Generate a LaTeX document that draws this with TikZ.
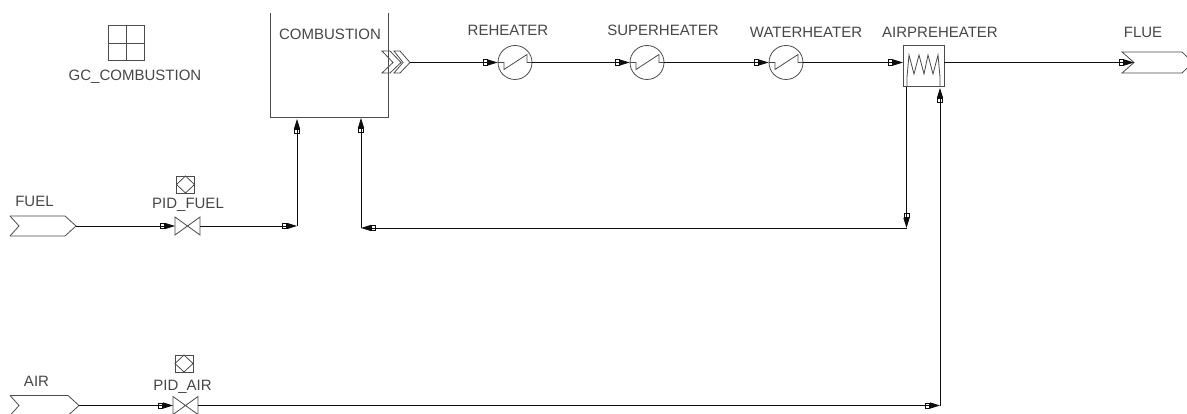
\documentclass[tikz,border=0pt]{standalone}
\usepackage{fontspec}
\setmainfont{Liberation Sans}
\usetikzlibrary{arrows.meta}
\definecolor{txt}{gray}{0.28}
\definecolor{pipe}{gray}{0.05}
\definecolor{edge}{gray}{0.3}
\tikzset{
  x=1pt,y=-1pt,
  lbl/.style={anchor=base,inner sep=0pt,text=txt,font=\fontsize{15}{16}\selectfont},
  symb/.style={draw=edge,line width=0.8pt},
  flow/.style={draw=pipe,line width=0.8pt,-{Rectangle[open,length=5pt,width=6pt,line width=0.7pt]Triangle[length=10pt,width=6pt,sep=0pt]}},
  heater/.style={circle,symb,minimum size=34pt,inner sep=0pt},
  block/.style={rectangle,inner sep=0pt,outer sep=0pt},
}
\newcommand{\coilsym}[1]{\draw[symb] ([shift={(-17,0)}]#1.center) -- ++(6,0) -- ++(0,7) -- ++(23,-15) -- ++(0,8) -- ++(5,0);}
\newcommand{\valvesym}[1]{\draw[symb] (#1.north west) -- (#1.south east) -- (#1.north east) -- (#1.south west) -- cycle;}
\newcommand{\instsym}[1]{\draw[symb] (#1.north west) rectangle (#1.south east);
  \draw[symb] (#1.north) -- (#1.east) -- (#1.south) -- (#1.west) -- cycle;}
\newcommand{\streamsym}[4]{% left x, centre y, right shoulder x, tip x
  \draw[symb] (#1,#2-10) -- (#3,#2-10) -- (#4,#2) -- (#3,#2+10) -- (#1,#2+10);
  \draw[symb] (#1,#2-10) -- (#1+9,#2) -- (#1,#2+10);}
\begin{document}
\begin{tikzpicture}
\fill[white] (0,0) rectangle (1187,414);
\clip (0,0) rectangle (1187,414);
\useasboundingbox (0,0) rectangle (1187,414);

% combustion
\node[block,minimum width=118pt,minimum height=105pt] (comb) at (329,65.5) {};
\draw[draw=edge,line width=1pt] (comb.north west) -- (comb.south west) -- (comb.south east) -- (comb.north east);
\node[lbl] (tcomb) at (330,40) {COMBUSTION};

% GC
\node[block,draw=edge,line width=0.9pt,minimum width=36pt,minimum height=35pt] (gc) at (126.5,43) {};
\draw[symb] (gc.north) -- (gc.south) (gc.west) -- (gc.east);
\node[lbl] (tgc) at (135,81) {GC\_COMBUSTION};

% heaters
\node[heater] (reheat) at (515,62.5) {};
\node[heater] (super) at (647,62.5) {};
\node[heater] (water) at (786,62.5) {};
\coilsym{reheat}\coilsym{super}\coilsym{water}
\node[lbl] (treheat) at (508,36) {REHEATER};
\node[lbl] (tsuper) at (663,36) {SUPERHEATER};
\node[lbl] (twater) at (806,38) {WATERHEATER};

% air preheater
\node[block,draw=edge,line width=1pt,minimum width=41pt,minimum height=41pt] (aph) at (923.5,66.5) {};
\draw[symb] (907,87) -- (907,77) -- (909,55) -- (914,74) -- (919,55) -- (924,74) -- (928,55) -- (933,74) -- (938,55) -- (940,77) -- (940,87);
\node[lbl] (taph) at (940,38) {AIRPREHEATER};

% streams
\streamsym{10}{226}{65}{76}
\coordinate (fuel) at (76,226);
\node[lbl] (tfuel) at (34.5,207) {FUEL};
\streamsym{10}{405.5}{68}{79}
\coordinate (air) at (79,405.5);
\node[lbl] (tair) at (36.5,386) {AIR};
\draw[symb] (1122,52) -- (1182,52) -- (1193,62.5) -- (1182,73) -- (1122,73) -- (1134,62.5) -- cycle;
\coordinate (flue) at (1134,62.5);
\node[lbl] (tflue) at (1143,38) {FLUE};

% valves and instruments
\node[block,minimum width=25pt,minimum height=18pt] (vfuel) at (187.5,226) {};
\valvesym{vfuel}
\node[block,minimum width=18pt,minimum height=17pt] (ifuel) at (185.5,184.5) {};
\instsym{ifuel}
\node[lbl] (tpf) at (188,209) {PID\_FUEL};
\node[block,minimum width=25pt,minimum height=18pt] (vair) at (185.5,405.5) {};
\valvesym{vair}
\node[block,minimum width=18pt,minimum height=17pt] (iair) at (184,363.5) {};
\instsym{iair}
\node[lbl] (tpa) at (182.5,390) {PID\_AIR};

% combustion outlet chevrons
\coordinate (out) at (410,62.5);
\draw[symb] (382,51) -- (390,51) -- (401,62.5) -- (390,73) -- (382,73) -- (393,62.5) -- cycle;
\draw[symb] (394,51) -- (400,51) -- (410,62.5) -- (400,73) -- (394,73) -- (403,62.5) -- cycle;

% junction points
\coordinate (c1) at (297,226);
\coordinate (c1top) at (297,119);
\coordinate (c2) at (361,228);
\coordinate (c2top) at (361,118);
\coordinate (c3) at (906.5,228);
\coordinate (c3top) at (906.5,87);
\coordinate (c4) at (940,405.5);
\coordinate (c4top) at (940,88);

% connectors
\draw[flow] (out) -- (reheat.west);
\draw[flow] (reheat.east) -- (super.west);
\draw[flow] (super.east) -- (water.west);
\draw[flow] (water.east) -- (aph.west |- water);
\draw[flow] (aph.east |- flue) -- (flue);
\draw[flow] (fuel) -- (vfuel.west);
\draw[flow] (vfuel.east) -- (c1);
\draw[flow] (c1) -- (c1top);
\draw[flow] (air) -- (vair.west);
\draw[flow] (vair.east) -- (c4);
\draw[flow] (c4) -- (c4top);
\draw[flow] (c3top) -- (c3);
\draw[flow] (c3) -- (c2);
\draw[flow] (c2) -- (c2top);
\end{tikzpicture}
\end{document}
